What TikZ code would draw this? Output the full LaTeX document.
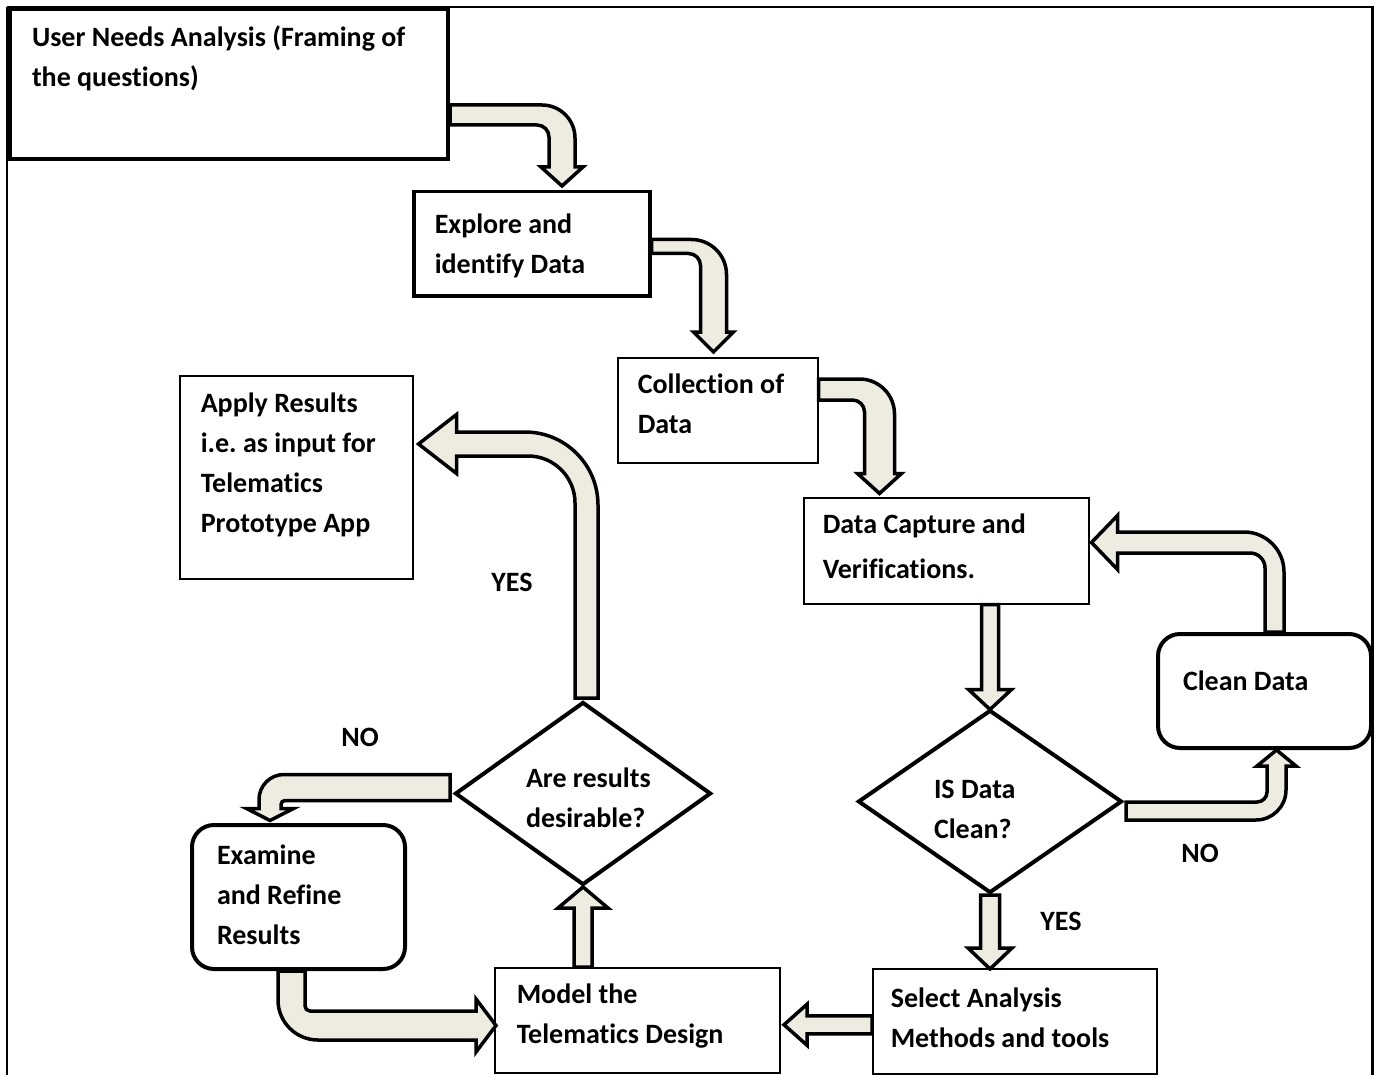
\documentclass[tikz,border=0pt]{standalone}
\usepackage{fontspec}
\setmainfont{Carlito}[Ligatures={NoCommon}]
\frenchspacing
\usetikzlibrary{shapes.geometric,calc}
\definecolor{arrowfill}{RGB}{238,236,225}
\tikzset{
 every node/.style={font=\fontsize{28}{40}\selectfont\bfseries},
 boxthin/.style={draw, line width=1.5pt, fill=white, inner sep=0pt, anchor=north west},
 boxthick/.style={draw, line width=4pt, fill=white, inner sep=0pt, anchor=north west},
 boxround/.style={boxthick, rounded corners=22pt},
 decision/.style={draw, diamond, line width=4pt, fill=white, inner sep=0pt},
 blockarrow/.style={draw=black, fill=arrowfill, line width=3.5pt, line join=miter, miter limit=10},
 lbl/.style={inner sep=0pt},
 frameline/.style={draw=black},
}
% text inside a box: width, height, left pad, first baseline, text
\newcommand{\boxtext}[5]{\parbox[c][#2pt][t]{#1pt}{\raggedright\leftskip=#3pt\relax\rule{0pt}{#4pt}#5}}
% text inside a diamond: x offset, raise of first baseline, text
\newcommand{\dtext}[3]{\smash{\makebox[0pt][l]{\hspace*{#1pt}\raisebox{#2pt}{\begin{tabular}[t]{@{}l@{}}#3\end{tabular}}}}}
% bent block arrow: opts, h1, h2, Lx, Ly, Ro, Ri, hw, hl
\newcommand{\Larrow}[9]{%
 \filldraw[blockarrow,#1] (0,-#2) -- (#4+#3-#6,-#2) arc[start angle=-90,end angle=0,radius=#6] -- (#4+#3,#5-#9) -- (#4+#8,#5-#9) -- (#4,#5) -- (#4-#8,#5-#9) -- (#4-#3,#5-#9) -- (#4-#3,#2+#7) arc[start angle=0,end angle=-90,radius=#7] -- (0,#2) -- cycle;}
% straight block arrow: opts, h, L, hw, hl
\newcommand{\Sarrow}[5]{%
 \filldraw[blockarrow,#1] (0,-#2) -- (#3-#5,-#2) -- (#3-#5,-#4) -- (#3,0) -- (#3-#5,#4) -- (#3-#5,#2) -- (0,#2) -- cycle;}

\begin{document}
\begin{tikzpicture}[x=1pt,y=-1pt]
\useasboundingbox (0,0) rectangle (1375,1075);
% outer frame
\draw[frameline, line width=2pt] (7,7) -- (1372,7);
\draw[frameline, line width=3pt] (1372,6) -- (1372,1075);
\draw[frameline, line width=1.5pt] (7,7) -- (7,1075);

% boxes
\node[boxthick] (User) at (8,7) {\boxtext{438}{150}{22}{38}{User Needs Analysis (Framing of\\the questions)}};
\node[boxthick, line width=3.5pt] (Explore) at (412,190) {\boxtext{236}{104}{21}{42}{Explore and\\identify Data}};
\node[boxthin] (Collection) at (617,357) {\boxtext{200}{105}{20}{36}{Collection of\\Data}};
\node[boxthin] (Capture) at (803,497) {\boxtext{285}{106}{19}{36}{\baselineskip=45pt Data Capture and\\Verifications.}};
\node[boxround] (Clean) at (1156,632) {\boxtext{213}{114}{25}{56}{Clean Data}};
\node[boxthin] (Select) at (872,968) {\boxtext{284}{105}{18}{39}{Select Analysis\\Methods and tools}};
\node[boxthin] (Model) at (494,967) {\boxtext{285}{105}{22}{36}{Model the\\Telematics Design}};
\node[boxround] (Examine) at (190,823) {\boxtext{213}{144}{25}{39}{Examine\\and Refine\\Results}};
\node[boxthin] (Apply) at (179,375) {\boxtext{233}{203}{21}{37}{Apply Results\\i.e. as input for\\Telematics\\Prototype App}};

% decisions
\node[decision, minimum width=264pt, minimum height=183pt] (IS) at (990,801.5) {\dtext{-56}{3.5}{IS Data\\Clean?}};
\node[decision, minimum width=256pt, minimum height=183pt] (Are) at (583,793.5) {\dtext{-57}{6.5}{Are results\\desirable?}};

% labels
\node[lbl] (yes1) at (512,582) {YES};
\node[lbl] (no1) at (360,737) {NO};
\node[lbl] (no2) at (1200,853) {NO};
\node[lbl] (yes2) at (1061,921) {YES};

% arrows
\Larrow{shift={(User.east |- 0,115)}}{10}{13}{112}{71}{33}{12}{21}{19}
\Larrow{shift={(Explore.east |- 0,246.5)}}{7}{13}{62}{105.5}{35}{12}{20}{20}
\Larrow{shift={(Collection.east |- 0,389.5)}}{10.5}{15}{61}{104}{35}{12}{22}{20}
\Sarrow{shift={(IS.north |- Capture.south)}, rotate=-90}{8.5}{105}{21.5}{20}
\Larrow{shift={($(IS.east)+(2,9.5)$)}, yscale=-1}{9}{9.5}{150.5}{61}{30}{10}{19.5}{16}
\Larrow{shift={(Clean.north -| 1274.5,0)}, rotate=90, yscale=-1}{9.5}{10.5}{89.5}{183}{40}{15}{27}{26}
\Sarrow{shift={(IS.south)}, rotate=-90}{9.5}{74}{22}{21}
\Sarrow{shift={($(Select.west)+(0,3.5)$)}, rotate=180}{9}{88}{20.5}{23}
\Sarrow{shift={(Are.south |- Model.north)}, rotate=90}{9}{80}{25}{21}
\Larrow{shift={($(Are.north)+(3.5,-2)$)}, rotate=90, yscale=-1}{11.5}{12}{254}{168}{73}{47}{29.5}{38}
\Larrow{shift={($(Are.west)+(-3,-6)$)}, rotate=180, yscale=-1}{13}{11}{180}{33}{25}{4}{23.5}{12}
\Larrow{shift={($(Examine.south)+(-7,0)$)}, rotate=-90, yscale=-1}{13.5}{14.5}{54.5}{204.5}{40}{5}{26.5}{20}
\end{tikzpicture}
\end{document}
